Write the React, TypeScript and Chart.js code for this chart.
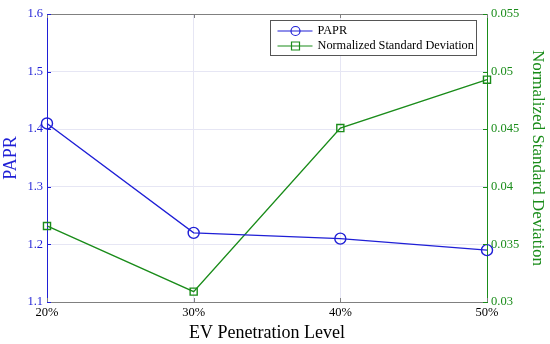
import React, { useEffect, useRef } from "react";
import { Chart, registerables } from "chart.js";
Chart.register(...registerables);

const categories = ["20%", "30%", "40%", "50%"];
const paprValues = [1.41, 1.22, 1.21, 1.19];
const nsdValues = [0.0366, 0.0309, 0.0451, 0.0493];
const leftTicks = [1.1, 1.2, 1.3, 1.4, 1.5, 1.6];
const rightTicks = [0.03, 0.035, 0.04, 0.045, 0.05, 0.055];
const seriesNames = ["PAPR", "Normalized Standard Deviation"];

const BLUE = "#1f1fd6";
const GREEN = "#1a8c1a";
const FONT = "'Liberation Serif', 'DejaVu Serif', serif";

const framePlugin = {
  id: "frame",
  afterDraw(chart: any) {
    const { ctx, chartArea: a } = chart;
    ctx.save();
    ctx.strokeStyle = "#808080";
    ctx.lineWidth = 1;
    ctx.beginPath();
    ctx.moveTo(a.left, a.top + 0.5);
    ctx.lineTo(a.right, a.top + 0.5);
    ctx.stroke();
    const xs = chart.scales.x;
    for (let i = 0; i < categories.length; i++) {
      const px = Math.round(xs.getPixelForValue(i)) + 0.5;
      ctx.beginPath();
      ctx.moveTo(px, a.bottom);
      ctx.lineTo(px, a.bottom - 4);
      ctx.moveTo(px, a.top);
      ctx.lineTo(px, a.top + 4);
      ctx.stroke();
    }
    const yl = chart.scales.y;
    ctx.strokeStyle = BLUE;
    leftTicks.forEach((v) => {
      const py = Math.round(yl.getPixelForValue(v)) + 0.5;
      ctx.beginPath();
      ctx.moveTo(a.left, py);
      ctx.lineTo(a.left + 4, py);
      ctx.stroke();
    });
    const yr = chart.scales.y2;
    ctx.strokeStyle = GREEN;
    rightTicks.forEach((v) => {
      const py = Math.round(yr.getPixelForValue(v)) + 0.5;
      ctx.beginPath();
      ctx.moveTo(a.right, py);
      ctx.lineTo(a.right - 4, py);
      ctx.stroke();
    });
    // legend
    const bx = 270.5, by = 20.5, bw = 206, bh = 35;
    ctx.fillStyle = "#ffffff";
    ctx.fillRect(bx, by, bw, bh);
    ctx.strokeStyle = "#555555";
    ctx.strokeRect(bx, by, bw, bh);
    const items = [
      { name: seriesNames[0], color: BLUE, style: "circle" },
      { name: seriesNames[1], color: GREEN, style: "rect" },
    ];
    items.forEach((it, i) => {
      const cy = by + 10.5 + i * 15;
      ctx.strokeStyle = it.color;
      ctx.lineWidth = 1.2;
      ctx.beginPath();
      ctx.moveTo(bx + 7, cy);
      ctx.lineTo(bx + 42, cy);
      ctx.stroke();
      ctx.beginPath();
      if (it.style === "circle") {
        ctx.arc(bx + 25, cy, 4.5, 0, Math.PI * 2);
      } else {
        ctx.rect(bx + 21, cy - 4, 8, 8);
      }
      ctx.stroke();
      ctx.fillStyle = "#000";
      ctx.font = `12.3px ${FONT}`;
      ctx.textBaseline = "middle";
      ctx.textAlign = "left";
      ctx.fillText(it.name, bx + 47, cy);
    });
    ctx.restore();
  },
};

export default function App() {
  const ref = useRef<HTMLCanvasElement>(null);
  useEffect(() => {
    const chart = new Chart(ref.current!, {
      type: "line",
      data: {
        labels: categories,
        datasets: [
          {
            label: seriesNames[0],
            data: paprValues,
            yAxisID: "y",
            borderColor: BLUE,
            backgroundColor: "rgba(0,0,0,0)",
            borderWidth: 1.4,
            pointStyle: "circle",
            pointRadius: 5.5,
            pointBorderWidth: 1.4,
            pointBorderColor: BLUE,
            pointBackgroundColor: "rgba(0,0,0,0)",
            tension: 0,
          },
          {
            label: seriesNames[1],
            data: nsdValues,
            yAxisID: "y2",
            borderColor: GREEN,
            backgroundColor: "rgba(0,0,0,0)",
            borderWidth: 1.4,
            pointStyle: "rect",
            pointRadius: 5,
            pointBorderWidth: 1.4,
            pointBorderColor: GREEN,
            pointBackgroundColor: "rgba(0,0,0,0)",
            tension: 0,
          },
        ],
      },
      options: {
        animation: false,
        responsive: false,
        layout: { padding: { top: 14, left: 0, right: 0, bottom: 0 } },
        plugins: { legend: { display: false }, tooltip: { enabled: false } },
        scales: {
          x: {
            type: "category",
            offset: false,
            grid: { color: "#e6e6f4", tickLength: 0, drawTicks: false },
            border: { color: "#808080" },
            ticks: { color: "#000", font: { family: FONT, size: 12.5 }, padding: 3, maxRotation: 0 },
            title: {
              display: true,
              text: "EV Penetration Level",
              color: "#000",
              font: { family: FONT, size: 18 },
              padding: { top: 0, bottom: 0 },
            },
            afterFit(s: any) {
              s.height = 42;
            },
          },
          y: {
            position: "left",
            min: 1.1,
            max: 1.6,
            afterBuildTicks(s: any) {
              s.ticks = leftTicks.map((v) => ({ value: v }));
            },
            grid: { color: "#e6e6f4", drawTicks: false, tickLength: 0 },
            border: { color: BLUE },
            ticks: {
              color: BLUE,
              font: { family: FONT, size: 12.5 },
              padding: 4,
              callback: (v: any) => String(Math.round(Number(v) * 10) / 10),
            },
            title: {
              display: true,
              text: "PAPR",
              color: BLUE,
              font: { family: FONT, size: 18 },
              padding: { top: 0, bottom: 2 },
            },
            afterFit(s: any) {
              s.width = 47;
            },
          },
          y2: {
            position: "right",
            min: 0.03,
            max: 0.055,
            afterBuildTicks(s: any) {
              s.ticks = rightTicks.map((v) => ({ value: v }));
            },
            grid: { display: false, drawTicks: false, tickLength: 0 },
            border: { color: GREEN },
            ticks: {
              color: GREEN,
              font: { family: FONT, size: 12.5 },
              padding: 4,
              callback: (v: any) => String(Math.round(Number(v) * 1000) / 1000),
            },
            title: {
              display: true,
              text: "Normalized Standard Deviation",
              color: GREEN,
              font: { family: FONT, size: 17 },
              padding: { top: 2, bottom: 0 },
            },
            afterFit(s: any) {
              s.width = 63;
            },
          },
        },
      },
      plugins: [framePlugin],
    } as any);
    return () => chart.destroy();
  }, []);
  return (
    <div style={{ position: "fixed", left: 0, top: 0, width: 550, height: 344, background: "#fff" }}>
      <canvas ref={ref} width={550} height={344} />
    </div>
  );
}
